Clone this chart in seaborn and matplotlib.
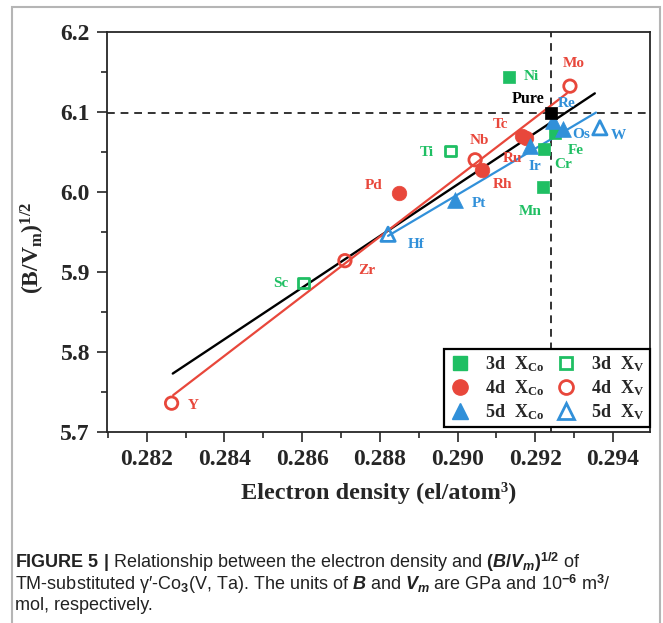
import numpy as np
import pandas as pd
import matplotlib
matplotlib.use("Agg")
import matplotlib.pyplot as plt
import seaborn as sns
from matplotlib.lines import Line2D
from matplotlib.patches import Rectangle
from matplotlib.ticker import MultipleLocator, FormatStrFormatter

# ---------------- data ----------------
el_3d_co = ["Ni", "Fe", "Cr", "Mn"]
x_3d_co = [0.29131, 0.29251, 0.29221, 0.29219]
y_3d_co = [6.144, 6.073, 6.053, 6.006]

el_3d_v = ["Ti", "Sc"]
x_3d_v = [0.28981, 0.28603]
y_3d_v = [6.051, 5.886]

el_4d_co = ["Tc", "Ru", "Rh", "Pd"]
x_4d_co = [0.29165, 0.29176, 0.29062, 0.28849]
y_4d_co = [6.070, 6.067, 6.027, 5.999]

el_4d_v = ["Mo", "Nb", "Zr", "Y"]
x_4d_v = [0.29289, 0.29045, 0.28710, 0.28264]
y_4d_v = [6.132, 6.040, 5.914, 5.736]

el_5d_co = ["Re", "Os", "Ir", "Pt"]
x_5d_co = [0.29246, 0.29272, 0.29186, 0.28993]
y_5d_co = [6.088, 6.079, 6.057, 5.990]

el_5d_v = ["W", "Hf"]
x_5d_v = [0.29366, 0.28821]
y_5d_v = [6.080, 5.947]

pure_x = [0.2924]
pure_y = [6.099]

# linear fits (end points)
fit_all_x = [0.28267, 0.29353]
fit_all_y = [5.773, 6.123]
fit_4d_x = [0.28268, 0.29281]
fit_4d_y = [5.746, 6.123]
fit_5d_x = [0.28821, 0.29356]
fit_5d_y = [5.945, 6.099]

x_ticks = [0.282, 0.284, 0.286, 0.288, 0.290, 0.292, 0.294]
y_ticks = [5.7, 5.8, 5.9, 6.0, 6.1, 6.2]

# ---------------- style ----------------
GREEN = "#1fbf63"
RED = "#e8473b"
BLUE = "#3190d9"

sns.set_style("ticks")
plt.rcParams["font.family"] = ["Liberation Serif", "DejaVu Serif"]
plt.rcParams["font.weight"] = "bold"
plt.rcParams["mathtext.fontset"] = "custom"
plt.rcParams["mathtext.rm"] = "Liberation Serif:bold"
plt.rcParams["mathtext.it"] = "Liberation Serif:bold"
plt.rcParams["mathtext.bf"] = "Liberation Sans:bold"
plt.rcParams["mathtext.sf"] = "Liberation Sans"
plt.rcParams["mathtext.bfit"] = "Liberation Sans:bold:italic"

fig = plt.figure(figsize=(6.63, 6.23), dpi=100)
ax = fig.add_axes([106.7 / 663, 1 - 432 / 623, 543.3 / 663, 400.3 / 623])

# reference dashed lines through the pure compound
ax.axvline(pure_x[0], color="#333333", lw=1.4, ls=(0, (4, 3)), zorder=1)
ax.axhline(pure_y[0], color="#333333", lw=1.4, ls=(0, (4, 3)), zorder=1)

# fit lines
sns.lineplot(x=fit_all_x, y=fit_all_y, color="black", lw=1.7, ax=ax, zorder=2)
sns.lineplot(x=fit_4d_x, y=fit_4d_y, color=RED, lw=1.6, ax=ax, zorder=2)
sns.lineplot(x=fit_5d_x, y=fit_5d_y, color=BLUE, lw=1.6, ax=ax, zorder=2)

groups = [
    (el_3d_co, x_3d_co, y_3d_co, GREEN, "s", True, 80),
    (el_3d_v, x_3d_v, y_3d_v, GREEN, "s", False, 60),
    (el_4d_co, x_4d_co, y_4d_co, RED, "o", True, 110),
    (el_4d_v, x_4d_v, y_4d_v, RED, "o", False, 80),
    (el_5d_co, x_5d_co, y_5d_co, BLUE, "^", True, 130),
    (el_5d_v, x_5d_v, y_5d_v, BLUE, "^", False, 105),
]
for els, xs, ys, col, mk, filled, sz in groups:
    if filled:
        sns.scatterplot(x=xs, y=ys, marker=mk, s=sz, color=col, edgecolor=col,
                        linewidth=0.5, ax=ax, zorder=3, legend=False)
    else:
        sns.scatterplot(x=xs, y=ys, marker=mk, s=sz, color=col, facecolor="none",
                        edgecolor=col, linewidth=2.0, ax=ax, zorder=3, legend=False)

sns.scatterplot(x=pure_x, y=pure_y, marker="s", s=80, color="black", edgecolor="black",
                linewidth=0.5, ax=ax, zorder=4, legend=False)

# element labels: pixel offsets (dx right, dy down)
label_off = {
    "Mo": (4, -23), "Ni": (23, 0), "Re": (13, -18), "Os": (18, 6), "Fe": (21, 17),
    "Cr": (20, 15), "Mn": (-13, 24), "W": (19, 8), "Tc": (-21, -11), "Ru": (-13, 20),
    "Ir": (5, 20), "Nb": (4, -19), "Rh": (21, 14), "Pt": (24, 4), "Ti": (-23, 2),
    "Pd": (-25, -7), "Zr": (22, 10), "Sc": (-23, 0), "Hf": (28, 10), "Y": (22, 2),
}
for els, xs, ys, col, mk, filled, sz in groups:
    for e, xv, yv in zip(els, xs, ys):
        dx, dy = label_off[e]
        ax.annotate(e, (xv, yv), xytext=(dx, -dy), textcoords="offset pixels",
                    ha="center", va="center", color=col, fontsize=11,
                    fontweight="bold", zorder=5)
ax.annotate("Pure", (pure_x[0], pure_y[0]), xytext=(-23, 14), textcoords="offset pixels",
            ha="center", va="center", color="black", fontsize=11.5, fontweight="bold", zorder=5)

# axes
ax.set_xlim(0.28097, 0.29495)
ax.set_ylim(5.7, 6.2)
ax.set_xticks(x_ticks)
ax.set_yticks(y_ticks)
ax.xaxis.set_major_formatter(FormatStrFormatter("%.3f"))
ax.yaxis.set_major_formatter(FormatStrFormatter("%.1f"))
ax.xaxis.set_minor_locator(MultipleLocator(0.001))
ax.yaxis.set_minor_locator(MultipleLocator(0.05))
ax.tick_params(which="major", direction="out", length=7, width=1.2, labelsize=17, pad=5)
ax.tick_params(which="minor", direction="out", length=4, width=1.2)
for lab in ax.get_xticklabels() + ax.get_yticklabels():
    lab.set_fontweight("bold")
for sp in ax.spines.values():
    sp.set_linewidth(1.3)
    sp.set_visible(True)
ax.set_xlabel("Electron density (el/atom³)", fontsize=17.5, fontweight="bold", labelpad=9)
ax.set_ylabel(r"$\mathrm{(B/V_m)^{1/2}}$", fontsize=17)
ax.yaxis.set_label_coords(-0.11, 0.46)

# legend
handles = [
    Line2D([], [], ls="none", marker="s", ms=10, color=GREEN, mfc=GREEN),
    Line2D([], [], ls="none", marker="o", ms=11, color=RED, mfc=RED),
    Line2D([], [], ls="none", marker="^", ms=12, color=BLUE, mfc=BLUE),
    Line2D([], [], ls="none", marker="s", ms=9, color=GREEN, mfc="none", mew=2),
    Line2D([], [], ls="none", marker="o", ms=10, color=RED, mfc="none", mew=2),
    Line2D([], [], ls="none", marker="^", ms=11, color=BLUE, mfc="none", mew=2),
]
labels = [
    r"$\mathrm{3d\ \ X_{Co}}$", r"$\mathrm{4d\ \ X_{Co}}$", r"$\mathrm{5d\ \ X_{Co}}$",
    r"$\mathrm{3d\ \ X_{V}}$", r"$\mathrm{4d\ \ X_{V}}$", r"$\mathrm{5d\ \ X_{V}}$",
]
leg = ax.legend(handles, labels, ncol=2, loc="lower right", bbox_to_anchor=(1.0, 0.012),
                borderaxespad=0, fontsize=13, frameon=True, fancybox=False,
                edgecolor="black", framealpha=1, handlelength=1.2, handletextpad=0.8,
                columnspacing=0.6, labelspacing=0.22, borderpad=0.3)
leg.get_frame().set_linewidth(1.6)
leg.set_zorder(10)

# caption
cap_kw = dict(family=["Liberation Sans", "DejaVu Sans"], fontweight="normal", fontsize=13,
              ha="left", va="center", color="#222222")
fig.text(15 / 663, 1 - 562 / 623,
         r"$\mathbf{FIGURE\ 5\ |}$ Relationship between the electron density and "
         r"$\mathsf{(}\mathbfit{B}\mathsf{/}\mathbfit{V}_{\mathbfit{m}}\mathsf{)}^{\mathsf{1/2}}$ of",
         **cap_kw)
fig.text(15 / 663, 1 - 584 / 623,
         r"TM-substituted γ′-Co$_{\mathsf{3}}$(V, Ta). The units of $\mathbfit{B}$ and "
         r"$\mathbfit{V}_{\mathbfit{m}}$ are GPa and 10$^{\mathsf{-6}}$ m$^{\mathsf{3}}$/",
         **cap_kw)
fig.text(15 / 663, 1 - 605 / 623, "mol, respectively.", **cap_kw)

# grey page frame
fig.patches.append(Rectangle((12 / 663, -0.05), 648 / 663, 1.05 - 7 / 623,
                             transform=fig.transFigure, fill=False, ec="#b5b5b5", lw=1.5))

fig.savefig("out.png", dpi=100)
